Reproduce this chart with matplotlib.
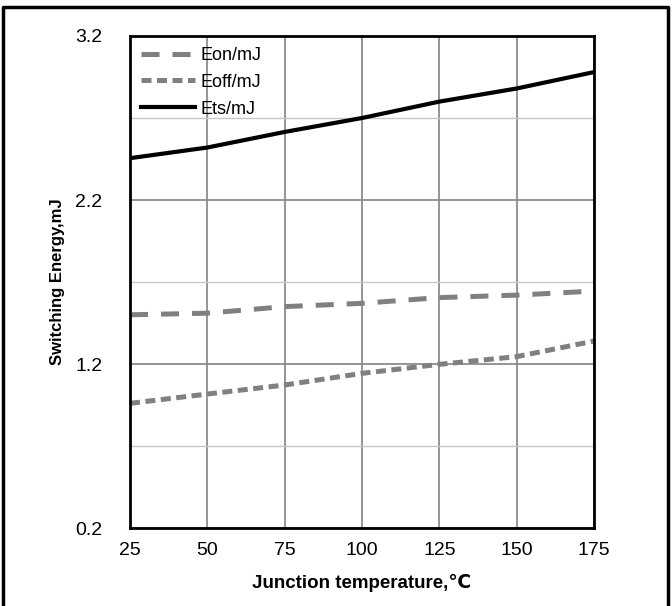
import matplotlib

matplotlib.use('Agg')
import matplotlib.pyplot as plt
from matplotlib.lines import Line2D

plt.rcParams['font.family'] = ['Liberation Sans', 'DejaVu Sans']

temps = [25, 50, 75, 100, 125, 150, 175]
eon = [1.50, 1.51, 1.55, 1.57, 1.605, 1.62, 1.645]
eoff = [0.96, 1.017, 1.072, 1.143, 1.198, 1.245, 1.34]
ets = [2.455, 2.52, 2.615, 2.70, 2.80, 2.88, 2.98]

x_ticks = [25, 50, 75, 100, 125, 150, 175]
y_ticks = [0.2, 1.2, 2.2, 3.2]
y_minor = [0.7, 1.7, 2.7]

fig = plt.figure(figsize=(6.72, 6.06), dpi=100)
ax = fig.add_axes([0.1935, 0.1287, 0.6905, 0.8119])

gray = '#808080'
ax.plot(temps, eon, color=gray, linewidth=3.6, dashes=(3.6, 2.6), label='Eon/mJ')
ax.plot(temps, eoff, color=gray, linewidth=3.6, dashes=(2.0, 1.1), label='Eoff/mJ')
ax.plot(temps, ets, color='black', linewidth=3, label='Ets/mJ')

ax.set_xlim(25, 175)
ax.set_ylim(0.2, 3.2)
ax.set_xticks(x_ticks)
ax.set_yticks(y_ticks)
ax.set_yticks(y_minor, minor=True)
ax.grid(True, which='major', axis='both', color='#8c8c8c', linewidth=1.3)
ax.grid(True, which='minor', axis='y', color='#c8c8c8', linewidth=1.0)
ax.set_axisbelow(True)
ax.tick_params(axis='both', which='both', length=0, labelsize=14, pad=10)
ax.tick_params(axis='y', pad=20)
for spine in ax.spines.values():
    spine.set_linewidth(2)
    spine.set_color('black')

ax.set_xlabel('Junction temperature,℃', fontsize=13.5, fontweight='bold', labelpad=11)
ax.set_ylabel('Switching Energy,mJ', fontsize=12, fontweight='bold', labelpad=7)

ax.legend(loc='upper left', frameon=False, fontsize=13, handlelength=3.0,
          handletextpad=0.3, borderaxespad=0.2, labelspacing=0.55)

# outer frame (left, top, right)
fig.add_artist(Line2D([0.004, 0.004, 0.994, 0.994], [0.0, 0.989, 0.989, 0.0],
                      transform=fig.transFigure, color='black', linewidth=2.5))

fig.savefig('out.png', dpi=100)
plt.close(fig)
